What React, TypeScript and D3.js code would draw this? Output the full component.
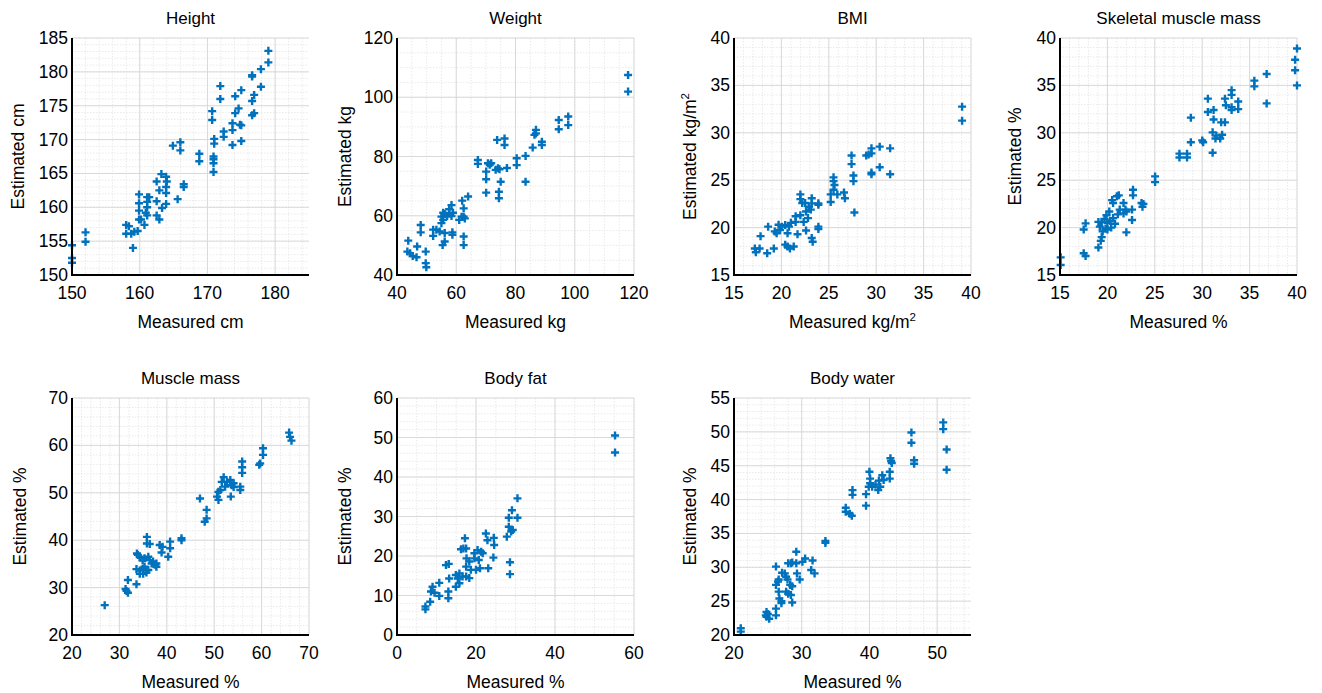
import React, { useEffect, useRef } from 'react';
import * as d3 from 'd3';

const WIDTH = 1322;
const HEIGHT = 693;
const SIZE = 237;
const FONT = '"Liberation Sans", Arial, sans-serif';
const BLUE = '#0072BD';

// [measured, estimated]
const heightPoints: [number, number][] = [
  [150, 154.4], [150, 152.5], [150, 151.8], [152, 156.3], [152, 154.9],
  [158.0, 157.4], [158.4, 157.2], [158.0, 156.1], [158.75, 156.1], [159.2, 156.4], [159.7, 156.5], [159.0, 154.0],
  [159.9, 161.9], [159.9, 160.6], [159.9, 159.5], [159.9, 158.2], [160.2, 158.2],
  [161.1, 161.5], [161.1, 160.8], [161.1, 160.0], [160.9, 159.2], [161.1, 158.8], [160.7, 157.4], [161.4, 161.5],
  [162.5, 163.8], [162.5, 160.9], [162.5, 158.8], [162.9, 158.2], [162.9, 162.5], [163.2, 164.9], [163.3, 159.9],
  [163.9, 164.5], [164.0, 163.8], [163.9, 163.0], [163.9, 162.1], [163.9, 160.5],
  [165.6, 161.2], [166.5, 163.4], [166.5, 163.0], [164.9, 169.1], [166.0, 169.6], [166.0, 168.4],
  [168.8, 167.9], [168.8, 166.8], [170.7, 174.2], [170.7, 172.9],
  [170.9, 167.5], [170.9, 167.1], [170.9, 166.5], [170.9, 165.2], [171.0, 170.1], [171.0, 169.4],
  [171.9, 177.9], [171.9, 176.0], [172.4, 171.2], [172.4, 170.4],
  [173.7, 172.4], [173.7, 171.4], [173.7, 169.2], [174.1, 176.4], [174.1, 173.9], [174.6, 174.6],
  [175.0, 177.3], [175.0, 172.1], [175.0, 169.8], [174.8, 172.2],
  [176.6, 179.5], [176.6, 179.3], [176.6, 175.7], [176.6, 173.6], [176.9, 173.9], [176.9, 176.6],
  [177.9, 180.4], [177.9, 177.8], [179.0, 183.1], [179.0, 181.4],
];

const weightPoints: [number, number][] = [
  [118, 107.5], [118, 101.9], [94.6, 92.3], [94.6, 89.2], [97.8, 93.5], [97.8, 90.6],
  [86.9, 89.0], [86.9, 87.8], [86.4, 87.3], [85.8, 83.0], [88.9, 85.0], [88.9, 83.9],
  [83.4, 80.2], [83.4, 71.5], [80.4, 79.4], [80.4, 77.1],
  [73.8, 85.6], [76.3, 86.1], [76.3, 83.9], [67.3, 78.8], [67.3, 77.5],
  [70.1, 72.3], [70.1, 67.8], [70.7, 77.7], [71.3, 77.2], [71.8, 77.7], [70.1, 74.9],
  [73.3, 75.5], [74.1, 76.0], [74.6, 75.7], [77.1, 76.1], [75.0, 71.5], [74.4, 68.1], [74.4, 65.9],
  [64.0, 66.5], [62.0, 65.1], [62.5, 62.5], [62.5, 59.7], [62.5, 53.0], [62.5, 50.1],
  [61.0, 58.6], [61.8, 59.7], [62.9, 59.1], [58.4, 63.6], [57.6, 62.2], [57.6, 60.8],
  [55.6, 61.0], [56.1, 60.6], [56.9, 59.9], [58.9, 61.0], [58.4, 59.9],
  [55.0, 59.7], [55.6, 58.6], [55.0, 57.5],
  [52.2, 55.3], [53.3, 55.3], [54.4, 54.7], [56.1, 54.2], [58.7, 54.4], [58.7, 53.6], [52.2, 53.2],
  [55.4, 50.1], [56.1, 51.3], [48.0, 56.9], [48.0, 54.4],
  [43.8, 51.6], [43.5, 47.9], [44.4, 47.3], [45.3, 46.4], [46.8, 49.6], [46.6, 46.0],
  [49.7, 47.9], [49.7, 44.0], [49.9, 42.6],
];

const bmiPoints: [number, number][] = [
  [39.06, 32.76], [39.06, 31.28], [31.47, 28.36], [31.47, 25.62], [30.37, 28.54], [30.37, 26.36],
  [29.5, 28.36], [29.5, 27.83], [29.5, 25.8], [29.5, 25.62], [28.95, 27.6], [29.2, 27.7],
  [27.4, 27.6], [27.4, 26.7], [27.6, 25.5], [27.6, 24.9], [27.7, 21.6],
  [25.5, 25.3], [25.5, 24.9], [25.6, 24.5], [25.5, 24.0], [25.2, 23.5], [25.2, 22.7],
  [25.9, 23.5], [26.6, 23.7], [26.7, 23.1],
  [23.9, 22.56], [23.9, 22.4], [23.9, 20.1], [23.9, 19.85],
  [23.2, 23.1], [23.2, 22.56], [23.1, 21.9],
  [22.0, 23.5], [22.0, 23.0], [22.2, 22.6], [22.5, 22.6], [22.9, 22.2], [22.6, 21.7], [22.8, 21.0],
  [23.2, 18.9], [23.3, 18.5], [21.5, 21.2], [22.0, 21.3], [22.35, 20.6], [21.5, 20.6], [21.0, 20.5],
  [21.7, 19.3], [22.6, 19.7],
  [20.4, 20.27], [20.8, 20.1], [20.05, 20.1], [19.7, 20.3], [19.85, 19.75],
  [19.3, 19.6], [19.5, 19.4], [20.65, 19.4],
  [20.4, 18.2], [20.65, 18.0], [20.9, 17.8], [21.3, 18.0], [19.2, 17.8],
  [18.6, 20.1], [17.8, 19.1], [17.2, 17.8], [17.3, 17.4], [17.7, 17.8], [18.5, 17.3],
];

const skeletalPoints: [number, number][] = [
  [15.07, 16.86], [15.07, 16.05], [17.5, 19.8], [17.7, 20.45], [17.5, 17.3], [17.7, 17.0],
  [19.05, 17.9], [19.3, 18.6], [19.4, 19.0], [19.5, 19.6], [19.05, 20.6], [19.2, 20.1], [19.4, 20.6],
  [19.7, 20.9], [20.0, 20.5], [20.3, 20.7], [19.9, 21.3], [20.2, 21.7], [20.6, 21.0], [20.8, 20.4],
  [20.0, 19.8], [20.4, 20.0], [19.8, 19.9],
  [20.5, 22.9], [20.6, 22.6], [21.0, 23.3], [21.2, 23.4], [21.3, 21.9], [21.1, 21.4],
  [21.7, 22.6], [21.9, 21.9], [21.7, 21.5], [22.0, 21.7], [22.0, 19.5],
  [22.7, 24.0], [22.7, 23.4], [22.6, 21.9], [22.6, 20.8], [23.6, 22.6], [23.7, 22.2], [23.8, 22.5],
  [25.03, 25.4], [25.03, 24.8], [27.6, 27.8], [27.6, 27.4], [28.4, 27.8], [28.4, 27.4],
  [28.8, 31.6], [28.8, 29.0], [30.0, 29.2], [30.1, 29.0], [30.6, 33.6], [30.6, 32.2],
  [31.2, 32.4], [31.2, 31.4], [31.1, 30.05], [31.1, 27.9],
  [31.4, 29.4], [31.5, 29.7], [31.9, 29.4], [32.1, 29.8], [32.0, 31.1], [32.4, 31.1],
  [32.4, 33.6], [32.5, 32.9], [33.1, 34.5], [33.1, 34.0], [33.1, 32.7], [33.1, 32.4],
  [33.8, 33.3], [33.8, 32.5], [35.5, 35.5], [35.5, 34.9], [36.8, 36.2], [36.8, 33.1],
  [39.8, 37.7], [39.8, 36.6], [40.0, 38.9], [40.0, 35.0],
];

const musclePoints: [number, number][] = [
  [26.9, 26.3], [31.3, 29.7], [31.5, 29.3], [31.8, 28.9], [31.8, 31.6], [33.6, 30.7],
  [33.7, 37.2], [33.9, 36.9], [34.3, 36.5], [33.6, 33.9], [34.3, 33.6], [35.0, 33.9],
  [34.3, 32.9], [35.0, 32.9], [35.7, 33.2], [35.3, 34.4], [36.1, 33.7], [37.1, 35.5], [37.5, 34.8],
  [34.9, 35.7], [35.3, 36.2],
  [35.8, 40.7], [35.8, 39.3], [36.4, 39.2], [36.1, 36.5], [36.4, 35.8], [36.8, 35.1],
  [37.8, 34.4], [37.8, 35.1], [38.5, 39.0], [39.1, 38.6], [38.9, 37.4],
  [40.7, 39.7], [40.7, 38.3], [40.3, 36.5], [43.1, 40.0], [43.1, 40.4],
  [47.0, 48.8], [48.4, 46.4], [48.4, 44.6], [48.0, 43.9], [50.9, 50.2], [50.9, 48.5],
  [51.6, 52.3], [52.0, 53.3], [52.3, 51.3], [53.4, 52.7], [53.7, 51.6], [54.1, 51.2],
  [54.1, 52.0], [52.7, 52.3], [51.3, 50.6], [50.6, 49.2], [53.5, 49.2],
  [55.5, 51.3], [55.5, 50.6], [55.9, 56.6], [55.9, 55.4], [55.9, 54.2],
  [59.5, 55.9], [59.7, 56.2], [60.3, 59.4], [60.3, 58.0],
  [65.8, 62.7], [66.0, 61.8], [66.3, 61.0],
];

const fatPoints: [number, number][] = [
  [55.2, 50.5], [55.2, 46.2], [30.5, 34.6], [29.1, 31.6], [28.3, 29.7], [30.5, 29.7],
  [28.3, 27.4], [28.9, 26.2], [27.8, 24.9], [29.3, 26.6], [28.6, 18.4], [28.6, 15.4],
  [22.5, 25.7], [22.9, 24.0], [24.5, 24.6], [24.6, 22.8], [24.4, 19.6], [23.1, 16.9],
  [17.2, 24.5], [16.2, 21.7], [16.8, 21.9], [17.5, 21.9],
  [19.6, 20.7], [20.4, 21.5], [21.3, 21.1], [21.7, 20.7],
  [17.6, 19.4], [18.3, 18.6], [19.6, 19.4], [20.7, 19.0],
  [17.5, 17.3], [18.7, 16.5], [20.0, 16.5], [21.0, 16.9], [17.5, 14.8], [18.3, 14.4],
  [12.4, 17.7], [13.1, 18.0], [14.9, 15.2], [15.4, 14.3], [15.8, 13.1], [14.9, 12.2], [15.8, 15.6], [16.6, 14.8],
  [13.2, 14.3], [10.7, 13.2], [9.0, 12.2], [8.6, 11.0], [9.5, 10.7], [10.7, 9.9],
  [13.0, 11.0], [13.0, 9.3], [8.4, 8.4], [7.2, 7.2], [7.2, 6.5],
];

const waterPoints: [number, number][] = [
  [21.0, 21.0], [21.0, 20.5], [24.8, 23.4], [25.0, 23.1], [24.8, 22.7], [25.2, 22.4], [24.7, 22.9],
  [26.2, 23.9], [26.2, 22.9], [26.2, 30.1], [26.2, 27.4], [26.5, 27.9], [26.6, 28.2],
  [26.6, 26.4], [26.7, 25.4], [27.0, 25.0], [27.0, 24.7], [27.1, 29.2], [27.5, 29.1],
  [27.7, 28.6], [27.9, 28.2], [28.0, 30.6], [28.4, 30.6], [28.6, 30.7],
  [27.7, 26.4], [28.0, 26.1], [28.4, 25.9], [28.3, 27.4], [28.6, 27.2], [28.6, 24.8],
  [29.2, 32.3], [29.2, 30.6], [29.3, 29.1], [29.7, 28.2], [30.1, 30.8], [30.5, 31.3],
  [31.4, 29.6], [31.9, 29.1], [31.6, 31.0], [33.5, 33.9], [33.5, 33.6],
  [36.5, 38.8], [36.5, 38.2], [37.1, 37.9], [37.4, 37.6], [37.5, 41.4], [37.5, 40.7],
  [39.5, 40.8], [39.5, 39.1], [40.0, 44.1], [40.1, 43.1], [40.1, 42.4], [40.4, 41.9], [39.9, 41.9],
  [40.9, 42.2], [41.4, 42.8], [41.3, 41.4], [41.6, 41.9], [41.9, 43.6], [42.1, 42.9],
  [43.0, 44.1], [43.0, 43.1], [43.1, 46.1], [43.2, 45.7], [43.3, 45.4],
  [46.2, 49.9], [46.2, 48.4], [46.6, 45.8], [46.6, 45.3],
  [50.9, 51.4], [50.9, 50.4], [51.4, 47.4], [51.4, 44.4],
];

const heightXTicks = [150, 160, 170, 180];
const heightYTicks = [150, 155, 160, 165, 170, 175, 180, 185];
const weightTicks = [40, 60, 80, 100, 120];
const bmiTicks = [15, 20, 25, 30, 35, 40];
const muscleTicks = [20, 30, 40, 50, 60, 70];
const fatXTicks = [0, 20, 40, 60];
const fatYTicks = [0, 10, 20, 30, 40, 50, 60];
const waterXTicks = [20, 30, 40, 50];
const waterYTicks = [20, 25, 30, 35, 40, 45, 50, 55];

const panels = [
  { title: 'Height', xLabel: 'Measured cm', yLabel: 'Estimated cm', sup: false, x: [150, 185], y: [150, 185], xTicks: heightXTicks, yTicks: heightYTicks, xMinor: 2, yMinor: 1, points: heightPoints, left: 72, top: 38, yLabelDx: -54 },
  { title: 'Weight', xLabel: 'Measured kg', yLabel: 'Estimated kg', sup: false, x: [40, 120], y: [40, 120], xTicks: weightTicks, yTicks: weightTicks, xMinor: 5, yMinor: 5, points: weightPoints, left: 397, top: 38, yLabelDx: -52 },
  { title: 'BMI', xLabel: 'Measured kg/m', yLabel: 'Estimated kg/m', sup: true, x: [15, 40], y: [15, 40], xTicks: bmiTicks, yTicks: bmiTicks, xMinor: 1, yMinor: 1, points: bmiPoints, left: 734, top: 38, yLabelDx: -44 },
  { title: 'Skeletal muscle mass', xLabel: 'Measured %', yLabel: 'Estimated %', sup: false, x: [15, 40], y: [15, 40], xTicks: bmiTicks, yTicks: bmiTicks, xMinor: 1, yMinor: 1, points: skeletalPoints, left: 1060, top: 38, yLabelDx: -45 },
  { title: 'Muscle mass', xLabel: 'Measured %', yLabel: 'Estimated %', sup: false, x: [20, 70], y: [20, 70], xTicks: muscleTicks, yTicks: muscleTicks, xMinor: 2, yMinor: 2, points: musclePoints, left: 72, top: 398, yLabelDx: -52 },
  { title: 'Body fat', xLabel: 'Measured %', yLabel: 'Estimated %', sup: false, x: [0, 60], y: [0, 60], xTicks: fatXTicks, yTicks: fatYTicks, xMinor: 5, yMinor: 2, points: fatPoints, left: 397, top: 398, yLabelDx: -52 },
  { title: 'Body water', xLabel: 'Measured %', yLabel: 'Estimated %', sup: false, x: [20, 55], y: [20, 55], xTicks: waterXTicks, yTicks: waterYTicks, xMinor: 2, yMinor: 1, points: waterPoints, left: 734, top: 398, yLabelDx: -44 },
];

export default function App() {
  const ref = useRef<SVGSVGElement>(null);

  useEffect(() => {
    const svg = d3.select(ref.current);
    svg.selectAll('*').remove();

    panels.forEach(p => {
      const g = svg.append('g').attr('transform', `translate(${p.left},${p.top})`);
      const x = d3.scaleLinear().domain(p.x).range([0, SIZE]);
      const y = d3.scaleLinear().domain(p.y).range([SIZE, 0]);

      // minor grid
      const xm = d3.range(p.x[0], p.x[1] + 1e-6, p.xMinor);
      const ym = d3.range(p.y[0], p.y[1] + 1e-6, p.yMinor);
      g.selectAll('.xm').data(xm).enter().append('line')
        .attr('x1', d => x(d)).attr('x2', d => x(d)).attr('y1', 0).attr('y2', SIZE)
        .attr('stroke', '#e1e1e1').attr('stroke-width', 0.7).attr('stroke-dasharray', '1.5,1.5');
      g.selectAll('.ym').data(ym).enter().append('line')
        .attr('y1', d => y(d)).attr('y2', d => y(d)).attr('x1', 0).attr('x2', SIZE)
        .attr('stroke', '#e1e1e1').attr('stroke-width', 0.7).attr('stroke-dasharray', '1.5,1.5');

      // major grid
      const xg = d3.range(p.x[0], p.x[1] + 1e-6, p.xTicks[1] - p.xTicks[0]);
      g.selectAll('.xg').data(xg).enter().append('line')
        .attr('x1', d => x(d)).attr('x2', d => x(d)).attr('y1', 0).attr('y2', SIZE)
        .attr('stroke', '#d6d6d6').attr('stroke-width', 0.9);
      g.selectAll('.yg').data(p.yTicks).enter().append('line')
        .attr('y1', d => y(d)).attr('y2', d => y(d)).attr('x1', 0).attr('x2', SIZE)
        .attr('stroke', '#d6d6d6').attr('stroke-width', 0.9);

      // points
      const s = 4;
      g.selectAll('.pt').data(p.points).enter().append('path')
        .attr('d', d => {
          const cx = x(d[0]), cy = y(d[1]);
          return `M${cx - s},${cy}H${cx + s}M${cx},${cy - s}V${cy + s}`;
        })
        .attr('stroke', BLUE).attr('stroke-width', 2.4).attr('fill', 'none');

      // axes lines
      g.append('line').attr('x1', 0).attr('x2', 0).attr('y1', 0).attr('y2', SIZE + 1)
        .attr('stroke', '#000').attr('stroke-width', 2);
      g.append('line').attr('x1', -1).attr('x2', SIZE).attr('y1', SIZE).attr('y2', SIZE)
        .attr('stroke', '#000').attr('stroke-width', 2);

      // tick labels
      g.selectAll('.xt').data(p.xTicks).enter().append('text')
        .attr('x', d => x(d)).attr('y', SIZE + 24)
        .attr('text-anchor', 'middle').attr('font-size', 17.5).attr('font-family', FONT)
        .text(d => d);
      g.selectAll('.yt').data(p.yTicks).enter().append('text')
        .attr('x', -4).attr('y', d => y(d) + 6)
        .attr('text-anchor', 'end').attr('font-size', 17.5).attr('font-family', FONT)
        .text(d => d);

      // title
      g.append('text').attr('x', SIZE / 2).attr('y', -14)
        .attr('text-anchor', 'middle').attr('font-size', 17).attr('font-family', FONT)
        .text(p.title);

      // x label
      const xl = g.append('text').attr('x', SIZE / 2).attr('y', SIZE + 53)
        .attr('text-anchor', 'middle').attr('font-size', 17.5).attr('font-family', FONT)
        .text(p.xLabel);
      if (p.sup) xl.append('tspan').attr('dy', -7).attr('font-size', 11.5).text('2');

      // y label
      const yl = g.append('text')
        .attr('transform', `translate(${p.yLabelDx + 6},${SIZE / 2}) rotate(-90)`)
        .attr('text-anchor', 'middle').attr('font-size', 17.5).attr('font-family', FONT)
        .text(p.yLabel);
      if (p.sup) yl.append('tspan').attr('dy', -7).attr('font-size', 11.5).text('2');
    });
  }, []);

  return (
    <svg ref={ref} width={WIDTH} height={HEIGHT}
      style={{ position: 'absolute', left: 0, top: 0, background: '#fff' }} />
  );
}
